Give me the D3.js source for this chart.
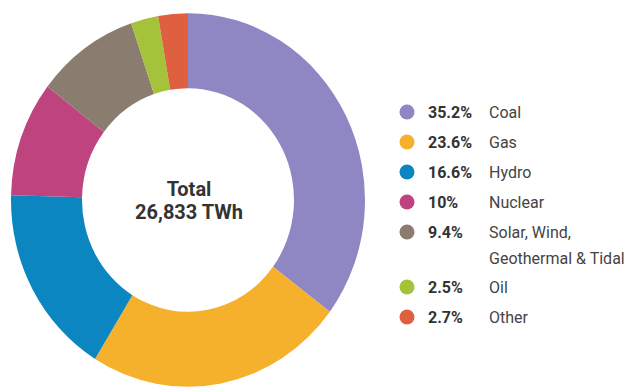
<!DOCTYPE html>
<meta charset="utf-8">
<script src="https://d3js.org/d3.v7.min.js"></script>
<style>
  body { margin: 0; background: #fff; }
  text { font-family: Roboto, "Noto Sans", sans-serif; }
</style>
<div id="my_dataviz"></div>
<script>

// data
var sources = ["Coal", "Gas", "Hydro", "Nuclear", "Solar, Wind,|Geothermal & Tidal", "Oil", "Other"];
var shares = [35.2, 23.6, 16.6, 10, 9.4, 2.5, 2.7];
var shareLabels = ["35.2%", "23.6%", "16.6%", "10%", "9.4%", "2.5%", "2.7%"];
var colors = ["#8f86c4", "#f5b02c", "#0b86c0", "#bf437f", "#8a7d6f", "#a4c33b", "#de603f"];
var totalLabel = ["Total", "26,833 TWh"];

var width = 633, height = 391;

var svg = d3.select("#my_dataviz")
  .append("svg")
    .attr("width", width)
    .attr("height", height);

// donut (a bit taller than wide, like the picture)
var donut = svg.append("g")
  .attr("transform", "translate(188,200) scale(1,1.055)");

var pie = d3.pie().sort(null).value(function(d) { return d; });
var arc = d3.arc().innerRadius(106).outerRadius(177);

donut.selectAll("path")
  .data(pie(shares))
  .enter()
  .append("path")
    .attr("d", arc)
    .attr("fill", function(d, i) { return colors[i]; });

// center text
svg.append("g")
  .attr("transform", "translate(189,0)")
  .selectAll("text")
  .data(totalLabel)
  .enter()
  .append("text")
    .attr("text-anchor", "middle")
    .attr("y", function(d, i) { return 196 + i * 23; })
    .attr("font-size", 20)
    .attr("font-weight", "bold")
    .attr("fill", "#333")
    .text(function(d) { return d; });

// legend
var rowY = [112, 142, 172, 202, 232, 287, 317];
var legend = svg.append("g");

var rows = legend.selectAll("g")
  .data(sources)
  .enter()
  .append("g")
    .attr("transform", function(d, i) { return "translate(407," + rowY[i] + ")"; });

rows.append("circle")
  .attr("r", 7.5)
  .attr("fill", function(d, i) { return colors[i]; });

rows.append("text")
  .attr("x", 21)
  .attr("y", 5.5)
  .attr("font-size", 16)
  .attr("font-weight", "bold")
  .attr("fill", "#333")
  .text(function(d, i) { return shareLabels[i]; });

rows.append("text")
  .attr("x", 82)
  .attr("y", 5.5)
  .attr("font-size", 16)
  .attr("fill", "#444")
  .selectAll("tspan")
  .data(function(d) { return d.split("|"); })
  .enter()
  .append("tspan")
    .attr("x", 82)
    .attr("dy", function(d, i) { return i ? 26 : 0; })
    .text(function(d) { return d; });

</script>
